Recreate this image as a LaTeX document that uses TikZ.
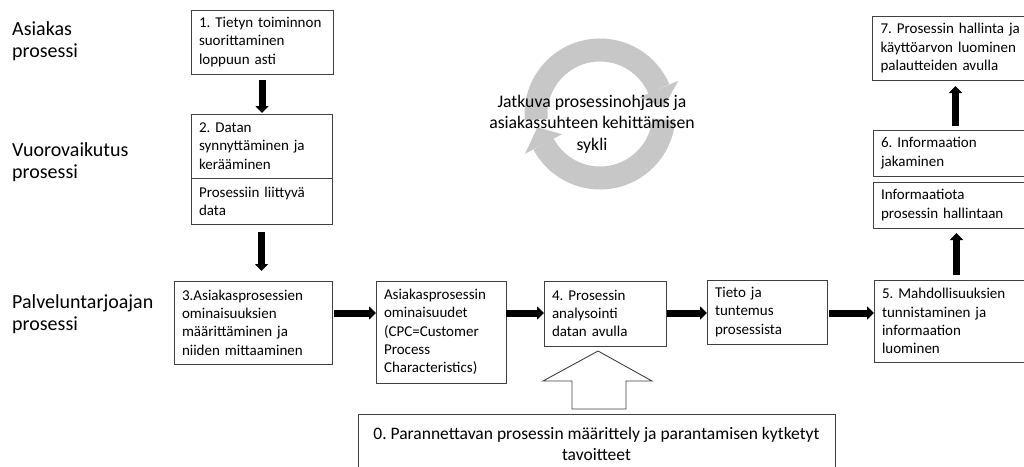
\documentclass[tikz,border=0pt]{standalone}
\usepackage{fontspec}
\setmainfont{Carlito}
\frenchspacing
\usetikzlibrary{arrows.meta,positioning}

\tikzset{
	box/.style={draw=black!75, line width=0.9pt, align=left, outer sep=0pt,
		inner xsep=8pt, inner ysep=2pt, font=\fontsize{15}{18.3}\selectfont},
	lane/.style={anchor=west, align=left, inner sep=0pt, font=\fontsize{20}{22}\selectfont},
	flow/.style={line width=7pt, -{Triangle[width=13pt,length=7pt]}},
	hollow/.style={draw=black!75, line width=0.9pt, fill=white},
	ring/.style={line width=23pt, draw=black!22},
	ringtip/.style={fill=black!22}
}

\begin{document}
\begin{tikzpicture}[x=1pt,y=-1pt]
	\useasboundingbox (0,0) rectangle (1024,466);
	\clip (0,0) rectangle (1024,466);
	
	% lanes
	\node[lane] (asiakas) at (12,41) {Asiakas\\prosessi};
	\node[lane] (vuoro) at (12,162) {Vuorovaikutus\\prosessi};
	\node[lane] (palvelu) at (12,314) {Palveluntarjoajan\\prosessi};
	
	% cycle
	\begin{scope}[shift={(600,114)}, yscale=-1]
		\draw[ring] (185:64) arc[start angle=185, end angle=23, radius=64];
		\fill[ringtip] (23:43) -- (23:85) -- (6:64) -- cycle;
		\draw[ring] (-5:64) arc[start angle=-5, end angle=-152, radius=64];
		\fill[ringtip] (208:43) -- (208:85) -- (192:64) -- cycle;
	\end{scope}
	\node[align=center, font=\fontsize{17.7}{21.5}\selectfont] (cycle) at (592,124)
		{Jatkuva prosessinohjaus ja\\asiakassuhteen kehittämisen\\sykli};
	
	% boxes
	\node[box, text width=126pt, minimum height=64pt] (step1) at (262,42)
		{1. Tietyn toiminnon\\suorittaminen\\loppuun asti};
	\node[box, text width=125pt, minimum height=64pt] (step2) at (261.5,146)
		{2. Datan\\synnyttäminen ja\\kerääminen};
	\node[box, text width=125pt, minimum height=46pt, below=0pt of step2] (data)
		{Prosessiin liittyvä\\data};
	\node[box, text width=142pt, minimum height=83pt] (step3) at (253,322.5)
		{3.Asiakasprosessien\\ominaisuuksien\\määrittäminen ja\\niiden mittaaminen};
	\node[box, text width=114pt, minimum height=102pt] (cpc) at (441,332)
		{Asiakasprosessin\\ominaisuudet\\(CPC=Customer\\Process\\Characteristics)};
	\node[box, text width=106pt, minimum height=65pt] (step4) at (605,313.5)
		{4. Prosessin\\analysointi\\datan avulla};
	\node[box, text width=104pt, minimum height=64pt] (tieto) at (767,312)
		{Tieto ja\\tuntemus\\prosessista};
	\node[box, text width=149pt, minimum height=82pt] (step5) at (956.5,321)
		{5. Mahdollisuuksien\\tunnistaminen ja\\informaation\\luominen};
	\node[box, text width=149pt, minimum height=46pt] (info) at (955.5,205)
		{Informaatiota\\prosessin hallintaan};
	\node[box, text width=149pt, minimum height=46pt, above=6pt of info] (step6)
		{6. Informaation\\jakaminen};
	\node[box, text width=149pt, minimum height=64pt] (step7) at (955,48)
		{7. Prosessin hallinta ja\\käyttöarvon luominen\\palautteiden avulla};
	\node[box, align=center, minimum width=477pt, minimum height=60pt,
		font=\fontsize{17.5}{20.5}\selectfont] (step0) at (596.5,444)
		{0. Parannettavan prosessin määrittely ja parantamisen kytketyt\\tavoitteet};
	
	% arrows
	\coordinate (row) at (0,313);
	\draw[flow, shorten <=2pt] (step3.east |- row) -- (cpc.west |- row);
	\draw[flow] (cpc.east |- row) -- (step4.west |- row);
	\draw[flow, shorten <=1pt] (step4.east |- row) -- (tieto.west |- row);
	\draw[flow, shorten <=2pt] (tieto.east |- row) -- (step5.west |- row);
	\draw[flow, shorten <=6pt, shorten >=1pt] (step1.south) -- (step1.south |- step2.north);
	\draw[flow, shorten <=8pt, shorten >=10pt] (data.south) -- (data.south |- step3.north);
	\draw[flow, shorten <=5pt, shorten >=5pt] (step5.north) -- (step5.north |- info.south);
	\draw[flow, shorten <=4pt, shorten >=6pt] (step6.north) -- (step6.north |- step7.south);
	\draw[hollow] ([xshift=-24.5pt,yshift=5pt]step0.north) -- ++(0,-28) -- ++(-29,0)
		-- ++(55,-30) -- ++(54,30) -- ++(-26,0) -- ++(0,28) -- cycle;
\end{tikzpicture}
\end{document}
